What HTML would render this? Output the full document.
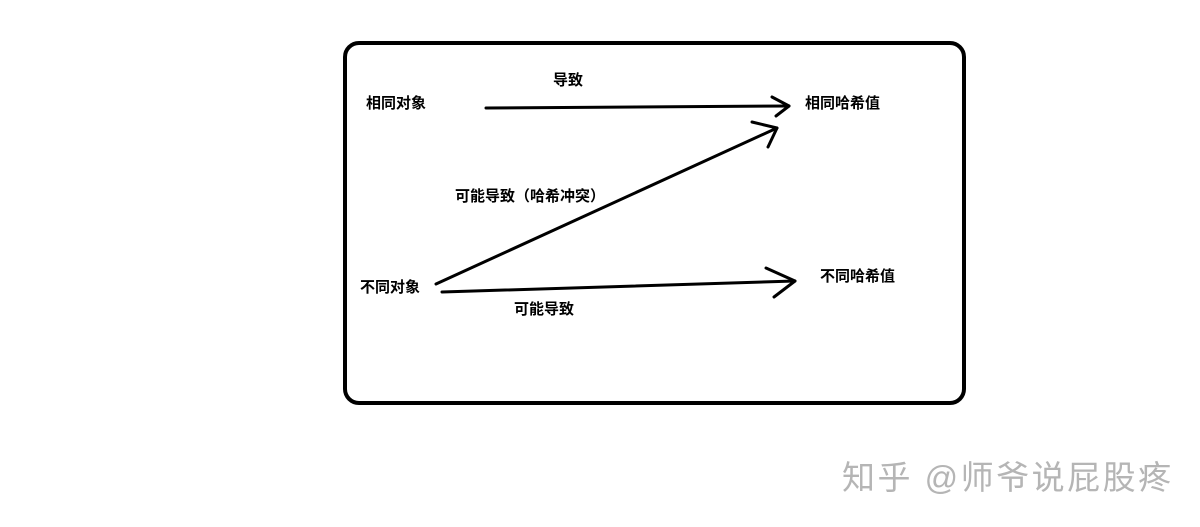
<!DOCTYPE html>
<html><head><meta charset="utf-8"><style>
body{margin:0;width:1200px;height:527px;background:#fff;position:relative;overflow:hidden;font-family:"Liberation Sans","Noto Sans CJK SC",sans-serif}
.box{position:absolute;left:343px;top:41px;width:615px;height:356px;border:4px solid #000;border-radius:16px}
.t{position:absolute;font-size:15px;font-weight:bold;color:#000;white-space:nowrap;line-height:16px}
.wm{position:absolute;left:842px;top:458px;font-size:33px;color:#b5b5b5;white-space:nowrap;line-height:40px;letter-spacing:2.5px}
</style></head><body>
<div class="box"></div>
<svg width="1200" height="527" style="position:absolute;left:0;top:0" fill="none" stroke="#000" stroke-width="3" stroke-linecap="round" stroke-linejoin="round">
<line x1="486" y1="108" x2="789" y2="106"/>
<polyline points="772,97 789,106 776,116"/>
<line x1="436" y1="284" x2="777" y2="128"/>
<polyline points="752,122 777,128 768,147"/>
<line x1="442" y1="292" x2="795" y2="281"/>
<polyline points="766,268 795,281 774,297"/>
</svg>
<div class="t" style="left:366px;top:96px">相同对象</div>
<div class="t" style="left:553px;top:73px">导致</div>
<div class="t" style="left:805px;top:96px">相同哈希值</div>
<div class="t" style="left:455px;top:189px">可能导致（哈希冲突）</div>
<div class="t" style="left:360px;top:280px">不同对象</div>
<div class="t" style="left:820px;top:269px">不同哈希值</div>
<div class="t" style="left:514px;top:302px">可能导致</div>
<div class="wm">知乎 @师爷说屁股疼</div>
</body></html>
